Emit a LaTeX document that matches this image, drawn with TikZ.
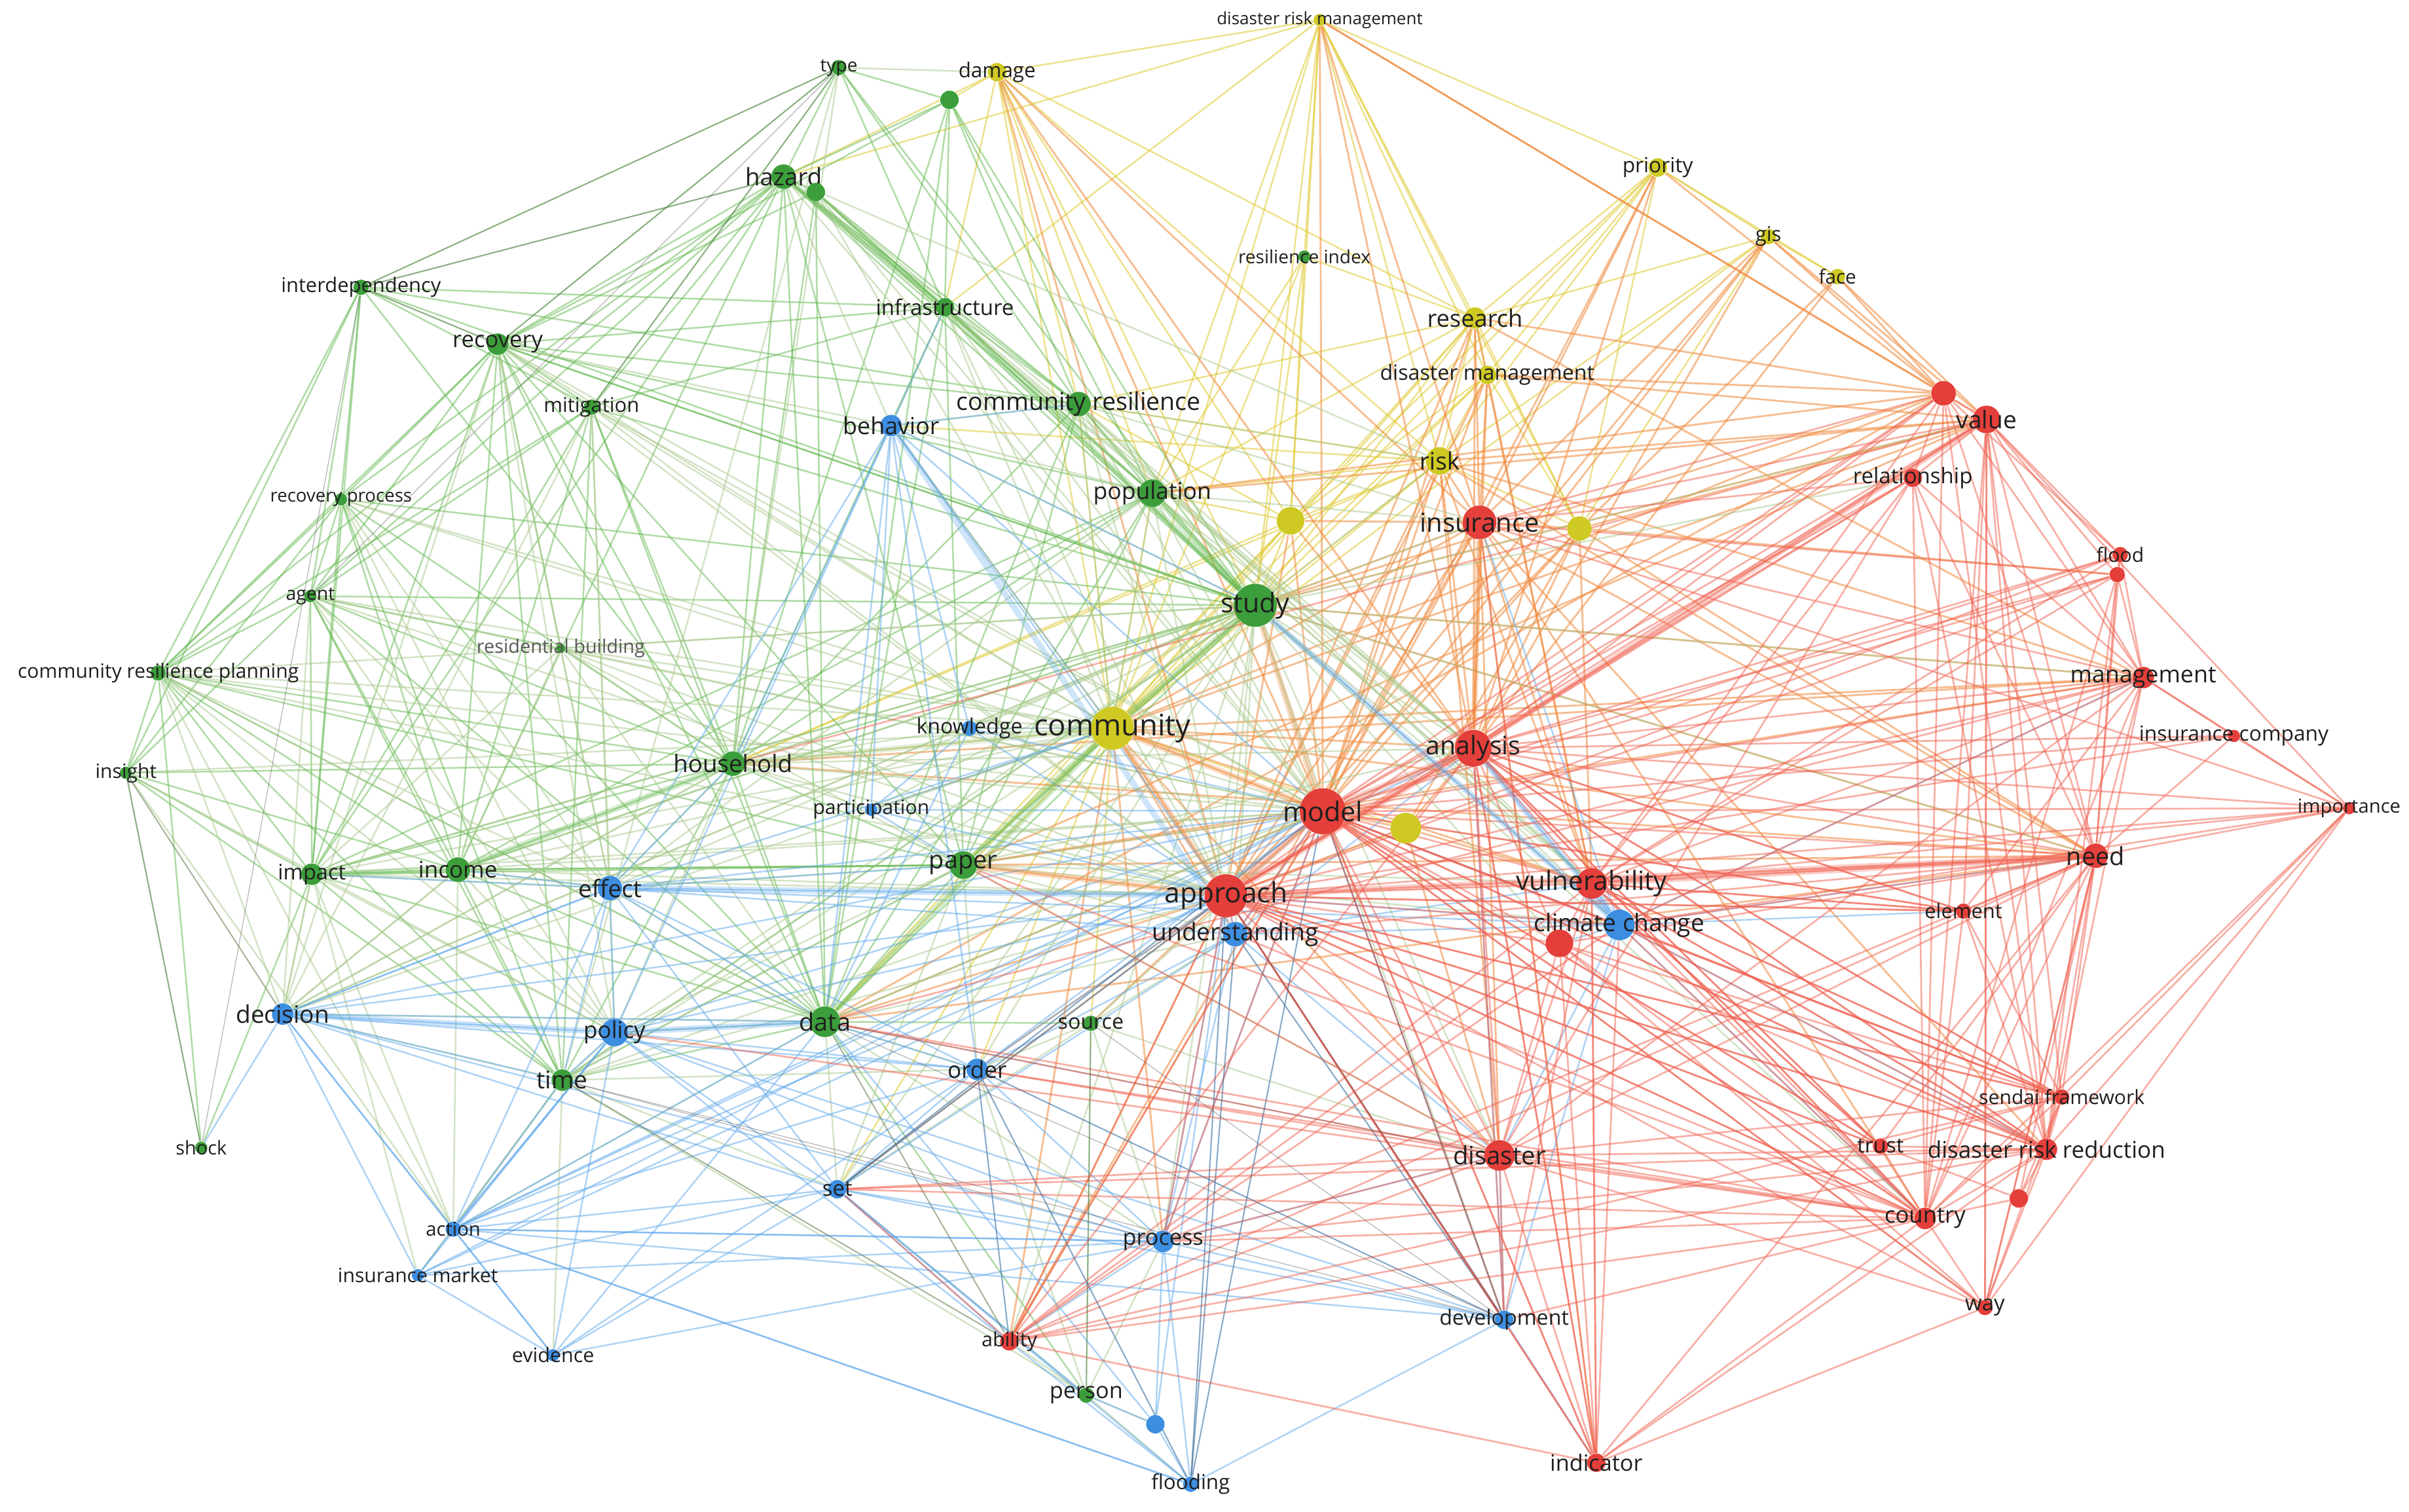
\documentclass[tikz,border=0pt]{standalone}
\usepackage{fontspec}
\setmainfont{Open Sans}
\definecolor{vosRed}{HTML}{E43F3A}
\definecolor{vosGreen}{HTML}{3C9E3A}
\definecolor{vosBlue}{HTML}{3D8EE0}
\definecolor{vosYellow}{HTML}{CFC923}
\definecolor{lnRed}{HTML}{F1604F}
\definecolor{lnOrange}{HTML}{F08A3C}
\definecolor{lnGreen}{HTML}{62B84E}
\definecolor{lnPale}{HTML}{A9C98C}
\definecolor{lnBlue}{HTML}{5FA8EC}
\definecolor{lnYellow}{HTML}{E0C930}
\definecolor{lnGray}{HTML}{4A4A4A}
\usetikzlibrary{backgrounds}

\begin{document}
\begin{tikzpicture}[x=0.2mm, y=-0.2mm,
  kw/.style={circle, inner sep=0pt, minimum size=#1*0.2mm},
  rd/.style={kw=#1, fill=vosRed},
  gr/.style={kw=#1, fill=vosGreen},
  bl/.style={kw=#1, fill=vosBlue},
  yl/.style={kw=#1, fill=vosYellow},
  lbl/.style={font=\fontsize{#1}{#1}\selectfont, text=black!88, inner sep=0pt},
  redge/.style={draw=lnRed, line width=0.65pt, opacity=0.5},
  oedge/.style={draw=lnOrange, line width=0.7pt, opacity=0.55},
  gedge/.style={draw=lnGreen, line width=0.6pt, opacity=0.5},
  ledge/.style={draw=lnPale, line width=0.6pt, opacity=0.5},
  bedge/.style={draw=lnBlue, line width=0.6pt, opacity=0.5},
  yedge/.style={draw=lnYellow, line width=0.6pt, opacity=0.55},
  kedge/.style={draw=lnGray, line width=0.3pt, opacity=0.4},
  thick edge/.style={line width=2.2pt, opacity=0.3}]

  \useasboundingbox (0,0) rectangle (1568,984);

  % yellow cluster
  \node[yl=8, label={[lbl=6.3]center:disaster risk management}] (drm) at (859,13) {};
  \node[yl=12, label={[lbl=7.6]center:damage}] (damage) at (649,47) {};
  \node[yl=12, label={[lbl=7.7]center:priority}] (priority) at (1079,109) {};
  \node[yl=10, label={[lbl=7.5]center:gis}] (gis) at (1151,154) {};
  \node[yl=10, label={[lbl=7.2]center:face}] (face) at (1196,180) {};
  \node[yl=14, label={[lbl=8.8]center:research}] (research) at (960,207) {};
  \node[yl=12, label={[lbl=7.8]center:disaster management}] (dmgmt) at (968,244) {};
  \node[yl=18, label={[lbl=8.9]center:risk}] (risk) at (937,300) {};
  \node[yl=18] (y1) at (840,339) {};
  \node[yl=16] (y2) at (1028,344) {};
  \node[yl=20] (y3) at (915,539) {};
  \node[yl=28, label={[lbl=11]center:community}] (comm) at (724,474) {};

  % green cluster
  \node[gr=10, label={[lbl=6.8]center:type}] (type) at (546,44) {};
  \node[gr=12] (g1) at (618,65) {};
  \node[gr=16, label={[lbl=8.9]center:hazard}] (hazard) at (510,115) {};
  \node[gr=12] (g2) at (531,125) {};
  \node[gr=8, label={[lbl=6.8]center:resilience index}] (resind) at (849,167) {};
  \node[gr=10, label={[lbl=7.5]center:interdependency}] (interdep) at (235,187) {};
  \node[gr=12, label={[lbl=8]center:infrastructure}] (infra) at (615,200) {};
  \node[gr=14, label={[lbl=8.4]center:recovery}] (recovery) at (324,224) {};
  \node[gr=10, label={[lbl=7.5]center:mitigation}] (mitig) at (385,265) {};
  \node[gr=16, label={[lbl=9.1]center:community resilience}] (commres) at (702,263) {};
  \node[gr=18, label={[lbl=8.6]center:population}] (popul) at (750,321) {};
  \node[gr=8, label={[lbl=6.7]center:recovery process}] (recproc) at (222,325) {};
  \node[gr=8, label={[lbl=6.9]center:agent}] (agent) at (202,388) {};
  \node[gr=28, label={[lbl=10]center:study}] (study) at (817,394) {};
  \node[gr=6, label={[lbl=7,text=black!65]center:residential building}] (resbld) at (365,422) {};
  \node[gr=10, label={[lbl=7.3]center:community resilience planning}] (crp) at (103,438) {};
  \node[gr=8, label={[lbl=7.3]center:insight}] (insight) at (82,503) {};
  \node[gr=16, label={[lbl=8.9]center:household}] (household) at (477,497) {};
  \node[gr=18, label={[lbl=9.2]center:paper}] (paper) at (627,563) {};
  \node[gr=16, label={[lbl=8.5]center:income}] (income) at (298,566) {};
  \node[gr=14, label={[lbl=7.9]center:impact}] (impact) at (203,569) {};
  \node[gr=20, label={[lbl=9.2]center:data}] (data) at (537,665) {};
  \node[gr=10, label={[lbl=7.8]center:source}] (source) at (710,666) {};
  \node[gr=14, label={[lbl=9]center:time}] (time) at (366,703) {};
  \node[gr=8, label={[lbl=7]center:shock}] (shock) at (131,747) {};
  \node[gr=10, label={[lbl=8.3]center:person}] (person) at (707,908) {};

  % blue cluster
  \node[bl=14, label={[lbl=8.7]center:behavior}] (behavior) at (580,277) {};
  \node[bl=10, label={[lbl=7.8]center:knowledge}] (knowledge) at (631,474) {};
  \node[bl=8, label={[lbl=7.3]center:participation}] (particip) at (567,527) {};
  \node[bl=16, label={[lbl=8.9]center:effect}] (effect) at (397,578) {};
  \node[bl=16, label={[lbl=9]center:understanding}] (underst) at (804,608) {};
  \node[bl=20, label={[lbl=9]center:climate change}] (climate) at (1054,602) {};
  \node[bl=14, label={[lbl=9]center:decision}] (decision) at (184,660) {};
  \node[bl=18, label={[lbl=8.5]center:policy}] (policy) at (400,672) {};
  \node[bl=14, label={[lbl=8.5]center:order}] (order) at (636,696) {};
  \node[bl=12, label={[lbl=8]center:set}] (set) at (545,774) {};
  \node[bl=14, label={[lbl=8.3]center:process}] (process) at (757,808) {};
  \node[bl=10, label={[lbl=7.1]center:action}] (action) at (295,800) {};
  \node[bl=8, label={[lbl=7.3]center:insurance market}] (insmkt) at (272,830) {};
  \node[bl=8, label={[lbl=7.4]center:evidence}] (evidence) at (360,882) {};
  \node[bl=12, label={[lbl=7.8]center:development}] (develop) at (979,859) {};
  \node[bl=10, label={[lbl=7.6]center:flooding}] (flooding) at (775,966) {};
  \node[bl=12] (b1) at (752,927) {};

  % red cluster
  \node[rd=16] (r1) at (1265,256) {};
  \node[rd=18, label={[lbl=9]center:value}] (value) at (1293,273) {};
  \node[rd=12, label={[lbl=8]center:relationship}] (relation) at (1245,311) {};
  \node[rd=10, label={[lbl=7.3]center:flood}] (flood) at (1380,361) {};
  \node[rd=10] (r2) at (1378,374) {};
  \node[rd=14, label={[lbl=8.7]center:management}] (mgmt) at (1395,441) {};
  \node[rd=8, label={[lbl=7.7]center:insurance company}] (inscomp) at (1454,479) {};
  \node[rd=8, label={[lbl=7.1]center:importance}] (importance) at (1529,526) {};
  \node[rd=22, label={[lbl=9.7]center:insurance}] (insurance) at (963,340) {};
  \node[rd=24, label={[lbl=9.5]center:analysis}] (analysis) at (959,487) {};
  \node[rd=30, label={[lbl=10]center:model}] (model) at (861,528) {};
  \node[rd=28, label={[lbl=10.3]center:approach}] (approach) at (798,583) {};
  \node[rd=20, label={[lbl=9.8]center:vulnerability}] (vuln) at (1036,575) {};
  \node[rd=18] (r3) at (1015,614) {};
  \node[rd=16, label={[lbl=9.2]center:need}] (need) at (1364,557) {};
  \node[rd=10, label={[lbl=7.5]center:element}] (element) at (1278,593) {};
  \node[rd=10, label={[lbl=7.3]center:sendai framework}] (sendai) at (1342,714) {};
  \node[rd=10, label={[lbl=7.8]center:trust}] (trust) at (1224,746) {};
  \node[rd=14, label={[lbl=8.5]center:disaster risk reduction}] (drr) at (1332,748) {};
  \node[rd=14, label={[lbl=8.4]center:country}] (country) at (1253,793) {};
  \node[rd=12] (r4) at (1314,780) {};
  \node[rd=20, label={[lbl=9.3]center:disaster}] (disaster) at (976,752) {};
  \node[rd=10, label={[lbl=8]center:way}] (way) at (1292,851) {};
  \node[rd=12, label={[lbl=7.4]center:ability}] (ability) at (657,873) {};
  \node[rd=12, label={[lbl=8.3]center:indicator}] (indicator) at (1039,952) {};

  \begin{scope}[on background layer]
    \fill[white] (0,0) rectangle (1568,984);

    % links, grouped by colour
    \foreach \a/\bs in {
      drm/{damage,priority,research,dmgmt,risk,y1,y2,comm,resind,study,popul,infra,hazard},
      damage/{g1,y1,risk,research,comm,study,popul,commres,infra,hazard},
      priority/{gis,research,risk,y2,comm,y1,dmgmt,face},
      gis/{face,research,y2,comm,risk},
      research/{dmgmt,risk,y1,y2,study,comm,popul,commres},
      dmgmt/{risk,y2,study,comm,y1},
      risk/{y1,y2,study,comm,popul,commres,behavior,household},
      y1/{study,comm,popul,commres,household,data,paper},
      y3/{comm,approach},
      comm/{study,paper,data,household,popul,commres,knowledge,particip,behavior,source,order,set},
      resind/{study,comm,research,popul,y1}}
      {\foreach \b in \bs {\draw[yedge] (\a) -- (\b);}}

    \foreach \a/\bs in {
      drm/{insurance,analysis,value,model,r1},
      damage/{insurance,model,analysis,approach},
      priority/{insurance,r1,analysis,model},
      gis/{r1,value,insurance,analysis,model,approach},
      face/{value,r1,y2,analysis},
      research/{insurance,model,analysis,approach,vuln,r1,mgmt},
      dmgmt/{insurance,model,analysis,approach,vuln,r1,value},
      risk/{insurance,model,analysis,approach,vuln,disaster,value,need,mgmt},
      y1/{model,approach,analysis,insurance},
      y2/{insurance,analysis,model,vuln,need,value,r2,approach,y3},
      y3/{model,analysis,vuln,disaster},
      comm/{model,approach,analysis,vuln,disaster,underst,ability,insurance,process},
      insurance/{analysis,model,approach,vuln,need,disaster,country,drr,ability,indicator,study},
      model/{approach,paper,data,ability},
      approach/{paper,data,source,ability,set,order},
      value/{comm,study,popul,paper},
      r1/{comm,study,popul,data},
      mgmt/{comm,study,household,paper},
      need/{comm,study,paper,household,data}}
      {\foreach \b in \bs {\draw[oedge] (\a) -- (\b);}}

    \foreach \a/\bs in {
      type/{g1,hazard,interdep,recovery,infra,commres,study,mitig},
      g1/{hazard,infra,commres,study,popul,recovery,household,data},
      hazard/{g2,interdep,recovery,mitig,infra,commres,popul,study,household,recproc,agent,crp,impact,income,data,paper},
      g2/{infra,commres,popul,study,household,recovery,data},
      interdep/{recovery,mitig,recproc,agent,crp,insight,impact,infra,commres,household,study},
      infra/{commres,popul,study,recovery,household,data,paper,mitig},
      recovery/{mitig,recproc,agent,crp,household,income,impact,study,commres,popul,data,time,paper,resbld},
      mitig/{crp,agent,household,impact,data,study,time,income},
      commres/{popul,study,household,data,paper},
      popul/{study,household,data,paper,income,impact},
      recproc/{agent,crp,household,impact,income,time,study,data,insight},
      agent/{crp,household,impact,income,time,data,study,resbld,insight},
      study/{paper,data,household,income,time,impact,recovery},
      crp/{insight,impact,income,household,time,data,shock,paper},
      insight/{impact,shock,time,income,household},
      household/{income,impact,data,paper,time},
      paper/{data,income,time},
      income/{impact,data,time,paper},
      impact/{time,data,shock,paper},
      data/{time,source,person},
      person/{source}}
      {\foreach \b in \bs {\draw[gedge] (\a) -- (\b);}}

    \foreach \a/\bs in {
      type/{damage,time,household},
      hazard/{behavior,model,analysis,risk},
      g2/{model,analysis,approach},
      infra/{comm,model,approach,analysis,vuln,behavior},
      recovery/{comm,behavior,model,approach,effect,policy,decision},
      mitig/{comm,model,approach,policy,effect,decision},
      commres/{comm,model,analysis,approach,vuln,insurance,risk,behavior,climate},
      popul/{comm,model,approach,analysis,vuln,insurance,behavior,effect},
      agent/{decision,comm,policy,model,approach,effect},
      recproc/{comm,model,policy,effect},
      study/{comm,model,approach,analysis,insurance,vuln,climate,underst,effect,policy,disaster,need,mgmt,value,relation,risk,behavior,knowledge,particip,ability,process,develop,order,set,r3,country,decision},
      resbld/{household,data,comm,model,study,income,impact,paper,approach,effect},
      crp/{decision,action,policy,effect,comm,study,model,approach,data},
      insight/{decision,action,comm,policy},
      household/{effect,policy,decision,comm,model,approach,particip,knowledge,analysis},
      paper/{model,analysis,effect,policy,underst,vuln,climate,disaster,order,set},
      income/{effect,policy,decision,model,approach,action,comm,study},
      impact/{effect,decision,policy,action,insmkt,model,approach,comm,study},
      decision/{comm,study,household,income,impact},
      data/{policy,order,set,model,analysis,process,ability,underst,decision,effect,action},
      time/{decision,policy,action,insmkt,evidence,order,set,approach,model,ability,comm,study,paper},
      source/{model,order,set,process,underst,disaster},
      person/{ability,process,flooding,b1,set,order,time}}
      {\foreach \b in \bs {\draw[ledge] (\a) -- (\b);}}

    \foreach \a/\bs in {
      behavior/{knowledge,particip,effect,policy,comm,study,approach,model,order,household,data,infra,commres},
      knowledge/{particip,comm,approach,model,data},
      particip/{comm,model,approach,paper},
      effect/{policy,decision,time,data,approach,model,action,paper,order,set,comm,underst,climate,household,income,impact},
      underst/{approach,model,analysis,climate,vuln,disaster,develop,process,set,order,flooding},
      climate/{vuln,analysis,model,approach,disaster,develop,r3,need,mgmt,country,drr,element,study,insurance},
      decision/{policy,action,insmkt,time,data,evidence,shock,effect,set,order,process,approach,model},
      policy/{time,action,data,order,set,approach,model,process,evidence,insmkt,flooding,develop},
      order/{set,process,approach,model,data,action,develop,ability,flooding},
      set/{process,action,approach,model,ability,flooding,develop,person,evidence,insmkt},
      process/{flooding,b1,develop,approach,model,action,ability,disaster},
      action/{insmkt,evidence,time,policy,process,flooding,approach,model,analysis,develop,data},
      insmkt/{evidence,approach,model,process},
      evidence/{process,order,data},
      develop/{disaster,indicator,approach,model,analysis,flooding},
      flooding/{b1,approach,model,action},
      b1/{approach,data,person}}
      {\foreach \b in \bs {\draw[bedge] (\a) -- (\b);}}

    \foreach \a/\bs in {
      r1/{value,relation,mgmt,flood,need,analysis,model,approach,vuln,country,drr,insurance},
      value/{relation,mgmt,need,flood,r2,analysis,model,approach,country,drr,way,sendai,importance,element,insurance,household},
      relation/{mgmt,need,analysis,model,approach,vuln,country,drr,insurance,disaster},
      flood/{r2,mgmt,need,analysis,model,approach,vuln},
      r2/{mgmt,need,analysis,model,approach,vuln,country,drr,insurance},
      mgmt/{inscomp,importance,need,analysis,model,approach,vuln,climate,country,drr,disaster,insurance,element,data},
      inscomp/{need,importance,analysis,model,approach},
      importance/{need,country,drr,sendai,analysis,model,approach,way,vuln,climate,insurance},
      analysis/{model,approach,vuln,r3,disaster,need,country,drr,indicator,develop,element,sendai,trust},
      model/{vuln,climate,r3,disaster,need,country,drr,indicator,develop,underst,process,element,sendai,trust,way},
      approach/{vuln,climate,r3,disaster,need,country,drr,indicator,develop,process,underst,element,sendai,trust,analysis},
      vuln/{r3,disaster,need,country,drr,indicator,develop,element,sendai,trust},
      r3/{disaster,country,drr,indicator,need,sendai,way},
      need/{element,country,drr,sendai,trust,way,r4,disaster,indicator,underst,climate,ability,process},
      element/{country,drr,sendai,model,approach,analysis,vuln},
      sendai/{drr,country,r4,trust,way,analysis,model,approach,vuln,climate,ability,disaster},
      trust/{drr,country,r4,model,analysis,approach,vuln},
      drr/{country,r4,way,disaster,indicator,model,approach,analysis,climate,vuln,process,ability,set},
      country/{r4,way,disaster,indicator,develop,ability,model,approach,analysis,climate,underst,data,paper,set,process,order,policy},
      disaster/{indicator,develop,ability,way,process,paper,data,set,order},
      ability/{indicator,approach,model,analysis,set,vuln,climate,r3},
      indicator/{way,approach,model,analysis,vuln,climate,insurance},
      way/{model,approach,need,value}}
      {\foreach \b in \bs {\draw[redge] (\a) -- (\b);}}

    \foreach \a/\bs in {
      interdep/{type,hazard,recovery,shock},
      type/{recovery,agent,mitig},
      insight/{shock,decision},
      time/{ability,develop,process},
      data/{ability,develop,disaster},
      order/{ability,flooding,develop},
      approach/{set,flooding,develop},
      model/{set,develop,flooding},
      underst/{develop,flooding},
      source/{person,develop}}
      {\foreach \b in \bs {\draw[kedge] (\a) -- (\b);}}

    % heavy links
    \foreach \a/\b/\c in {study/comm/lnGreen, study/popul/lnGreen, study/infra/lnGreen,
      infra/hazard/lnGreen, comm/model/lnOrange, comm/approach/lnOrange,
      model/approach/lnRed, model/analysis/lnRed, approach/analysis/lnRed,
      insurance/analysis/lnOrange, study/model/lnOrange, effect/approach/lnBlue,
      climate/analysis/lnBlue, climate/vuln/lnBlue, climate/study/lnBlue,
      household/income/lnGreen, impact/income/lnGreen, household/comm/lnPale,
      paper/approach/lnOrange, decision/policy/lnBlue, policy/data/lnBlue,
      data/comm/lnGreen, behavior/underst/lnBlue, comm/paper/lnGreen,
      vuln/need/lnRed, value/analysis/lnRed, need/approach/lnRed}
      {\draw[thick edge, draw=\c] (\a) -- (\b);}
  \end{scope}
\end{tikzpicture}
\end{document}
